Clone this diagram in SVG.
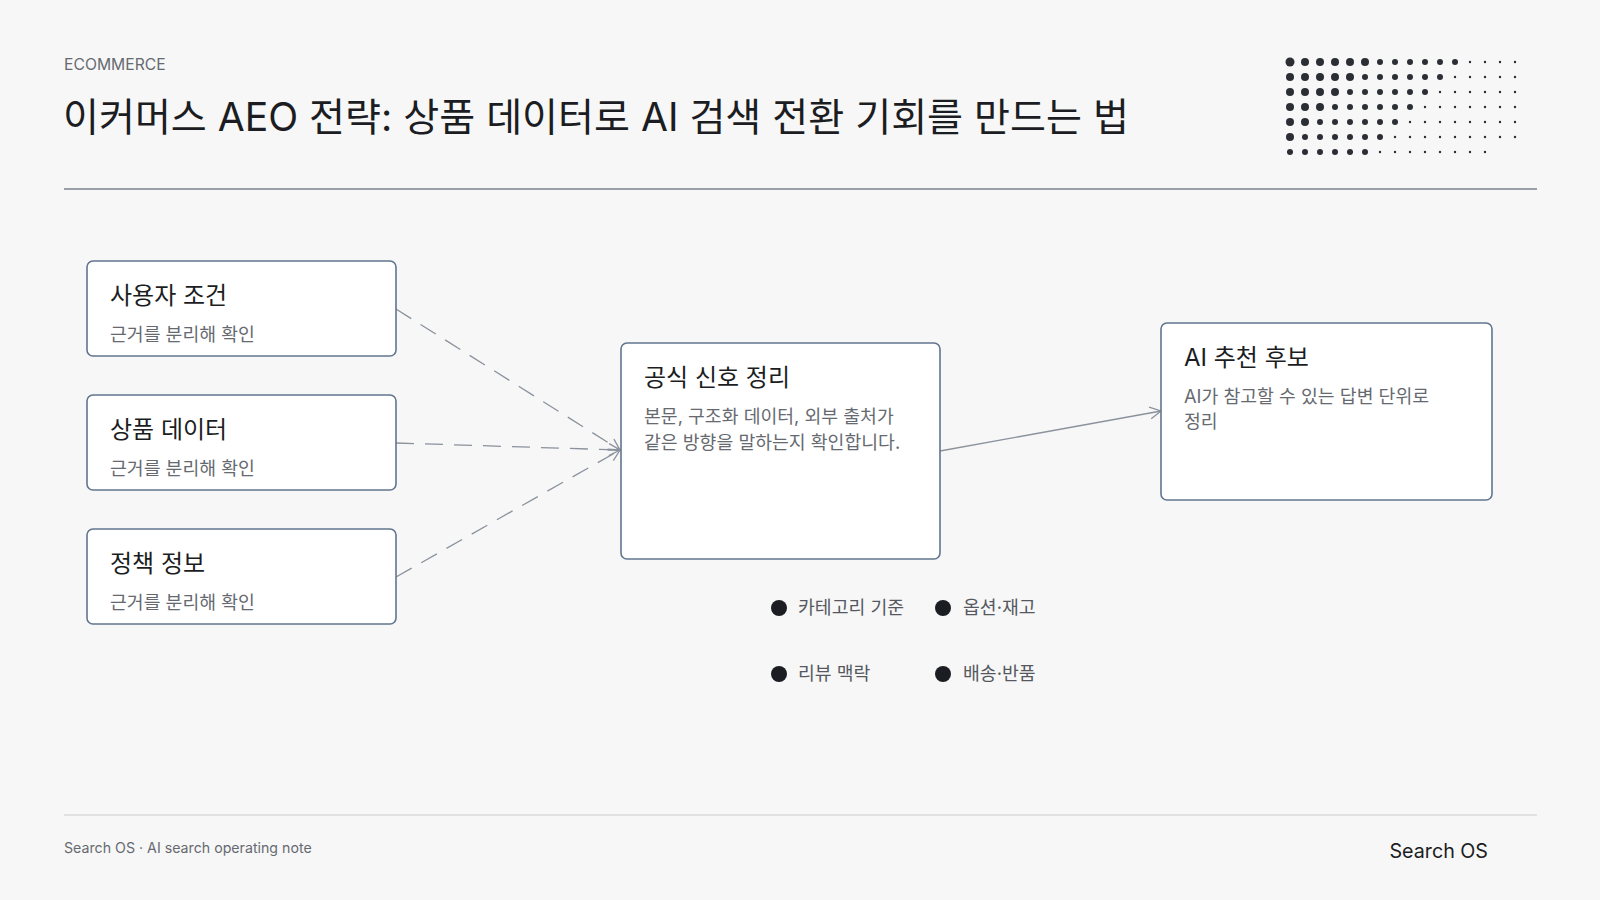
<svg xmlns="http://www.w3.org/2000/svg" width="1600" height="900" viewBox="0 0 1600 900">
<style>
text{font-family:Inter,"Noto Sans CJK KR",sans-serif}
.box{fill:#fff;stroke:#62758e;stroke-width:1.6}
.t{font-size:24px;fill:#1b1d22}
.s{font-size:18.3px;fill:#666a70}
.c{fill:none;stroke:#8a929c;stroke-width:1.3}
.d{stroke-dasharray:18 11}
.lg{font-size:18.3px;fill:#55595f}
</style>
<defs>
<marker id="a" markerWidth="14" markerHeight="14" refX="12" refY="7" orient="auto" markerUnits="userSpaceOnUse">
<path d="M1,1 L12,7 L1,13" fill="none" stroke="#8a929c" stroke-width="1.3"/>
</marker>
</defs>
<rect width="1600" height="900" fill="#f7f7f7"/>
<text x="64" y="70" font-size="15.7" fill="#666a70">ECOMMERCE</text>
<text x="63" y="131" font-size="39.1" fill="#1b1d22">이커머스 AEO 전략: 상품 데이터로 AI 검색 전환 기회를 만드는 법</text>
<g id="dots" fill="#2b2e34">
<circle cx="1290" cy="62" r="4.5"/><circle cx="1305" cy="62" r="4"/><circle cx="1320" cy="62" r="4"/><circle cx="1335" cy="62" r="4"/><circle cx="1350" cy="62" r="4"/><circle cx="1365" cy="62" r="4"/><circle cx="1380" cy="62" r="3"/><circle cx="1395" cy="62" r="3"/><circle cx="1410" cy="62" r="3"/><circle cx="1425" cy="62" r="3"/><circle cx="1440" cy="62" r="3"/><circle cx="1455" cy="62" r="3"/><circle cx="1470" cy="62" r="1.2"/><circle cx="1485" cy="62" r="1.2"/><circle cx="1500" cy="62" r="1.2"/><circle cx="1515" cy="62" r="1.2"/>
<circle cx="1290" cy="77" r="4"/><circle cx="1305" cy="77" r="4"/><circle cx="1320" cy="77" r="4"/><circle cx="1335" cy="77" r="4"/><circle cx="1350" cy="77" r="4"/><circle cx="1365" cy="77" r="3"/><circle cx="1380" cy="77" r="3"/><circle cx="1395" cy="77" r="3"/><circle cx="1410" cy="77" r="3"/><circle cx="1425" cy="77" r="3"/><circle cx="1440" cy="77" r="3"/><circle cx="1455" cy="77" r="1.2"/><circle cx="1470" cy="77" r="1.2"/><circle cx="1485" cy="77" r="1.2"/><circle cx="1500" cy="77" r="1.2"/><circle cx="1515" cy="77" r="1.2"/>
<circle cx="1290" cy="92" r="4"/><circle cx="1305" cy="92" r="4"/><circle cx="1320" cy="92" r="4"/><circle cx="1335" cy="92" r="4"/><circle cx="1350" cy="92" r="3"/><circle cx="1365" cy="92" r="3"/><circle cx="1380" cy="92" r="3"/><circle cx="1395" cy="92" r="3"/><circle cx="1410" cy="92" r="3"/><circle cx="1425" cy="92" r="3"/><circle cx="1440" cy="92" r="1.2"/><circle cx="1455" cy="92" r="1.2"/><circle cx="1470" cy="92" r="1.2"/><circle cx="1485" cy="92" r="1.2"/><circle cx="1500" cy="92" r="1.2"/><circle cx="1515" cy="92" r="1.2"/>
<circle cx="1290" cy="107" r="4"/><circle cx="1305" cy="107" r="4"/><circle cx="1320" cy="107" r="4"/><circle cx="1335" cy="107" r="3"/><circle cx="1350" cy="107" r="3"/><circle cx="1365" cy="107" r="3"/><circle cx="1380" cy="107" r="3"/><circle cx="1395" cy="107" r="3"/><circle cx="1410" cy="107" r="3"/><circle cx="1425" cy="107" r="1.2"/><circle cx="1440" cy="107" r="1.2"/><circle cx="1455" cy="107" r="1.2"/><circle cx="1470" cy="107" r="1.2"/><circle cx="1485" cy="107" r="1.2"/><circle cx="1500" cy="107" r="1.2"/><circle cx="1515" cy="107" r="1.2"/>
<circle cx="1290" cy="122" r="4"/><circle cx="1305" cy="122" r="4"/><circle cx="1320" cy="122" r="3"/><circle cx="1335" cy="122" r="3"/><circle cx="1350" cy="122" r="3"/><circle cx="1365" cy="122" r="3"/><circle cx="1380" cy="122" r="3"/><circle cx="1395" cy="122" r="3"/><circle cx="1410" cy="122" r="1.2"/><circle cx="1425" cy="122" r="1.2"/><circle cx="1440" cy="122" r="1.2"/><circle cx="1455" cy="122" r="1.2"/><circle cx="1470" cy="122" r="1.2"/><circle cx="1485" cy="122" r="1.2"/><circle cx="1500" cy="122" r="1.2"/><circle cx="1515" cy="122" r="1.2"/>
<circle cx="1290" cy="137" r="4"/><circle cx="1305" cy="137" r="3"/><circle cx="1320" cy="137" r="3"/><circle cx="1335" cy="137" r="3"/><circle cx="1350" cy="137" r="3"/><circle cx="1365" cy="137" r="3"/><circle cx="1380" cy="137" r="3"/><circle cx="1395" cy="137" r="1.2"/><circle cx="1410" cy="137" r="1.2"/><circle cx="1425" cy="137" r="1.2"/><circle cx="1440" cy="137" r="1.2"/><circle cx="1455" cy="137" r="1.2"/><circle cx="1470" cy="137" r="1.2"/><circle cx="1485" cy="137" r="1.2"/><circle cx="1500" cy="137" r="1.2"/><circle cx="1515" cy="137" r="1.2"/>
<circle cx="1290" cy="152" r="3"/><circle cx="1305" cy="152" r="3"/><circle cx="1320" cy="152" r="3"/><circle cx="1335" cy="152" r="3"/><circle cx="1350" cy="152" r="3"/><circle cx="1365" cy="152" r="3"/><circle cx="1380" cy="152" r="1.2"/><circle cx="1395" cy="152" r="1.2"/><circle cx="1410" cy="152" r="1.2"/><circle cx="1425" cy="152" r="1.2"/><circle cx="1440" cy="152" r="1.2"/><circle cx="1455" cy="152" r="1.2"/><circle cx="1470" cy="152" r="1.2"/><circle cx="1485" cy="152" r="1.2"/>
</g>
<line x1="64" y1="189" x2="1537" y2="189" stroke="#7d838c" stroke-width="1.5"/>
<g id="connectors">
<path class="c d" d="M396,309 L620,450" marker-end="url(#a)"/>
<path class="c d" d="M396,443 L620,450" marker-end="url(#a)"/>
<path class="c d" d="M396,577 L620,450" marker-end="url(#a)"/>
<path class="c" d="M940,451 L1161,411" marker-end="url(#a)"/>
</g>
<g id="n1"><rect class="box" x="87" y="261" width="309" height="95" rx="6"/><text class="t" x="110" y="304">사용자 조건</text><text class="s" x="110" y="341">근거를 분리해 확인</text></g>
<g id="n2"><rect class="box" x="87" y="395" width="309" height="95" rx="6"/><text class="t" x="110" y="438">상품 데이터</text><text class="s" x="110" y="475">근거를 분리해 확인</text></g>
<g id="n3"><rect class="box" x="87" y="529" width="309" height="95" rx="6"/><text class="t" x="110" y="572">정책 정보</text><text class="s" x="110" y="609">근거를 분리해 확인</text></g>
<g id="n4"><rect class="box" x="621" y="343" width="319" height="216" rx="6"/><text class="t" x="644" y="386">공식 신호 정리</text><text class="s" x="644" y="423">본문, 구조화 데이터, 외부 출처가</text><text class="s" x="644" y="449">같은 방향을 말하는지 확인합니다.</text></g>
<g id="n5"><rect class="box" x="1161" y="323" width="331" height="177" rx="6"/><text class="t" x="1184" y="366">AI 추천 후보</text><text class="s" x="1184" y="403">AI가 참고할 수 있는 답변 단위로</text><text class="s" x="1184" y="428">정리</text></g>
<g id="legend">
<circle cx="779" cy="608" r="8" fill="#1b1d22"/><text class="lg" x="798" y="614">카테고리 기준</text>
<circle cx="943" cy="608" r="8" fill="#1b1d22"/><text class="lg" x="963" y="614">옵션·재고</text>
<circle cx="779" cy="674" r="8" fill="#1b1d22"/><text class="lg" x="798" y="680">리뷰 맥락</text>
<circle cx="943" cy="674" r="8" fill="#1b1d22"/><text class="lg" x="963" y="680">배송·반품</text>
</g>
<line x1="64" y1="815" x2="1537" y2="815" stroke="#d8dadd" stroke-width="1.5"/>
<text x="64" y="853" font-size="14.2" fill="#666a70">Search OS · AI search operating note</text>
<text x="1488" y="858" font-size="19.7" fill="#1b1d22" text-anchor="end">Search OS</text>
</svg>
